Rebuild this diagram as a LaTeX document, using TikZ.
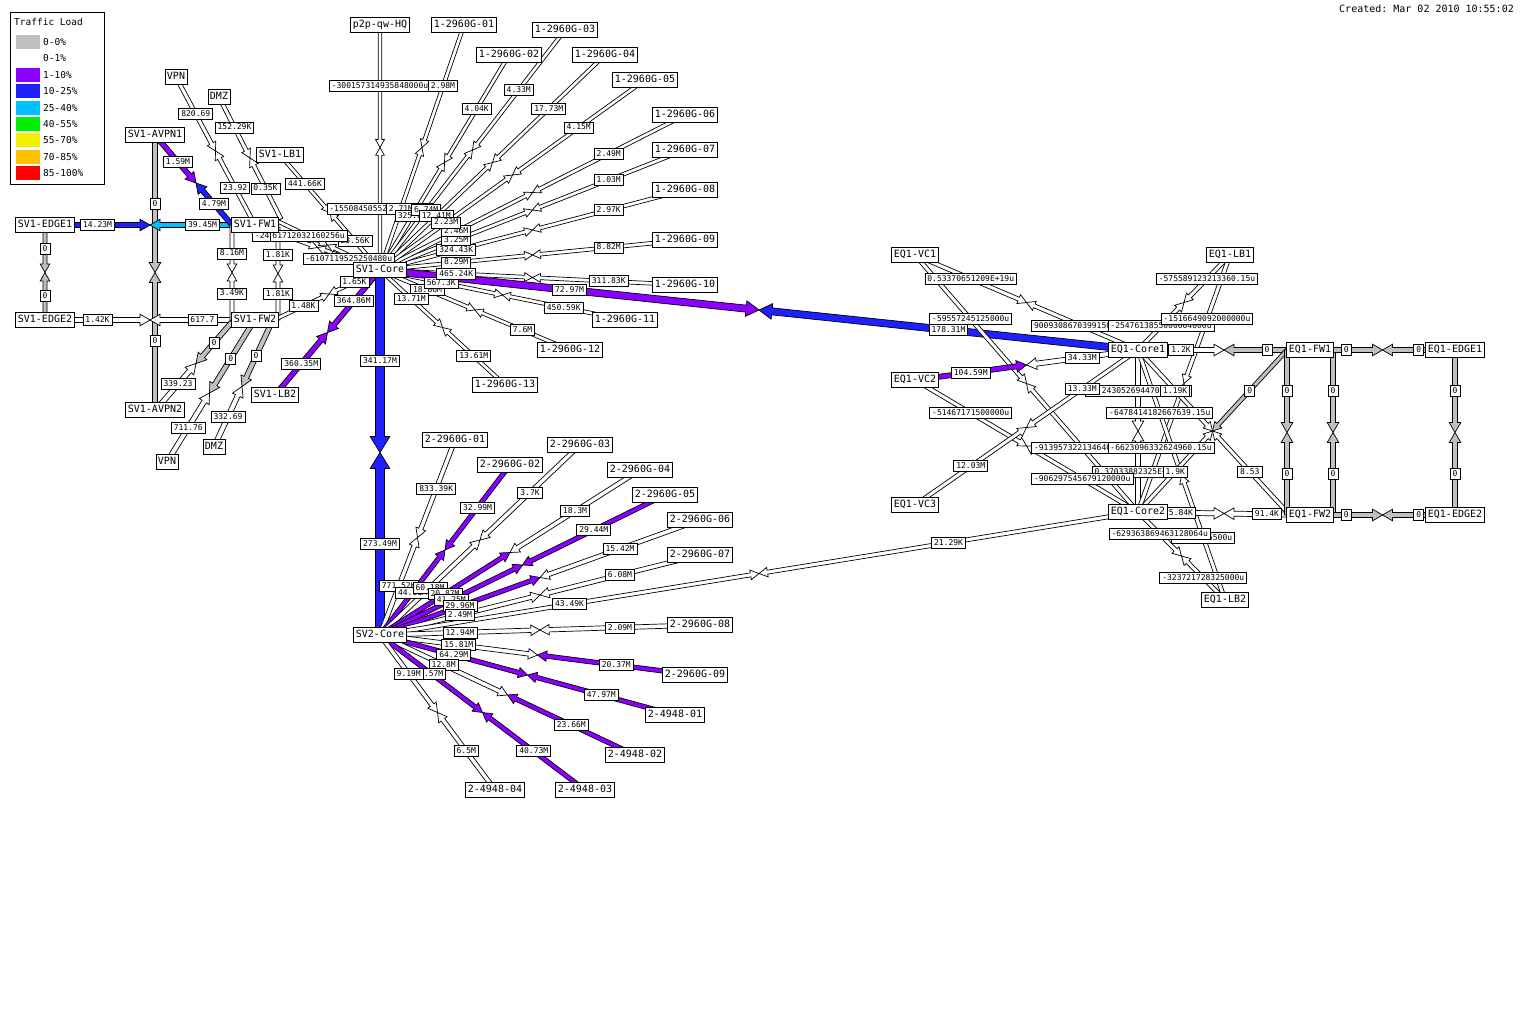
\documentclass[tikz,border=0pt]{standalone}
\usepackage{fontspec}
\setmonofont{DejaVu Sans Mono}
\usetikzlibrary{calc}
\definecolor{wgrey}{RGB}{192,192,192}
\definecolor{wpurple}{RGB}{140,0,255}
\definecolor{wblue}{RGB}{32,32,255}
\definecolor{wcyan}{RGB}{0,192,255}
\definecolor{wgreen}{RGB}{0,240,0}
\definecolor{wyellow}{RGB}{240,240,0}
\definecolor{worange}{RGB}{255,192,0}
\definecolor{wred}{RGB}{255,0,0}
\pgfdeclarelayer{links}
\pgfdeclarelayer{labels}
\pgfsetlayers{links,labels,main}
\tikzset{
  nd/.style={draw=black, fill=white, line width=0.9pt, font={\ttfamily\fontsize{10}{11}\selectfont},
    inner xsep=2pt, inner ysep=3pt, text height=7.5pt, text depth=2pt},
  lab/.style={draw=black, fill=white, line width=0.8pt, font={\ttfamily\fontsize{8}{9}\selectfont},
    inner xsep=2.5pt, inner ysep=2pt, text height=6pt, text depth=1pt},
  arrowline/.style={draw=black, line width=0.7pt, line join=miter},
  legtxt/.style={font={\ttfamily\fontsize{9.5}{10}\selectfont}, inner sep=0pt, anchor=west}
}
\newcount\labno
\newcommand\harrow[4]{%
  \pgfmathsetmacro\hwid{2*#4+0.8}%
  \pgfmathsetmacro\hlen{3*#4+2.5}%
  \coordinate (hm) at ($(#1.center)!0.5!(#2.center)$);
  \coordinate (hh) at ($(hm)!\hlen pt!(#1.center)$);
  \filldraw[arrowline, fill=#3]
    ($(#1.center)!#4pt!90:(#2.center)$) -- ($(hh)!#4pt!90:(#2.center)$) --
    ($(hh)!\hwid pt!90:(#2.center)$) -- (hm) -- ($(hh)!\hwid pt!-90:(#2.center)$) --
    ($(hh)!#4pt!-90:(#2.center)$) -- ($(#1.center)!#4pt!-90:(#2.center)$) -- cycle;
}
\newcommand\lab[2]{\if\relax\detokenize{#2}\relax\else
  \global\advance\labno by 1\relax
  \edef\labname{lab\the\labno}%
  \node[lab] (\labname) at #1 {#2};\fi}
\newcommand\wlf[9]{%
  \begin{pgfonlayer}{links}
    \harrow{#1}{#2}{#3}{#5}
    \harrow{#2}{#1}{#4}{#5}
  \end{pgfonlayer}
  \begin{pgfonlayer}{labels}
    \lab{($(#1.center)!#8!(#2.center)$)}{#6}
    \lab{($(#1.center)!#9!(#2.center)$)}{#7}
  \end{pgfonlayer}
}
\newcommand\wl[7]{\wlf{#1}{#2}{#3}{#4}{#5}{#6}{#7}{0.25}{0.75}}

\begin{document}
\begin{tikzpicture}[x=1pt,y=-1pt]
\useasboundingbox (0,0) rectangle (1536,1024);

% ---------- nodes ----------
\node[nd] (p2p) at (380,25) {p2p-qw-HQ};
\node[nd] (a01) at (464,25) {1-2960G-01};
\node[nd] (a02) at (509,55) {1-2960G-02};
\node[nd] (a03) at (565,30) {1-2960G-03};
\node[nd] (a04) at (605,55) {1-2960G-04};
\node[nd] (a05) at (645,80) {1-2960G-05};
\node[nd] (a06) at (685,115) {1-2960G-06};
\node[nd] (a07) at (685,150) {1-2960G-07};
\node[nd] (a08) at (685,190) {1-2960G-08};
\node[nd] (a09) at (685,240) {1-2960G-09};
\node[nd] (a10) at (685,285) {1-2960G-10};
\node[nd] (a11) at (625,320) {1-2960G-11};
\node[nd] (a12) at (570,350) {1-2960G-12};
\node[nd] (a13) at (505,385) {1-2960G-13};
\node[nd] (sv1core) at (380,270) {SV1-Core};
\node[nd] (sv2core) at (380,635) {SV2-Core};
\node[nd] (edge1) at (45,225) {SV1-EDGE1};
\node[nd] (edge2) at (45,320) {SV1-EDGE2};
\node[nd] (avpn1) at (155,135) {SV1-AVPN1};
\node[nd] (avpn2) at (155,410) {SV1-AVPN2};
\node[nd] (fw1) at (255,225) {SV1-FW1};
\node[nd] (fw2) at (255,320) {SV1-FW2};
\node[nd] (lb1) at (280,155) {SV1-LB1};
\node[nd] (lb2) at (275,395) {SV1-LB2};
\node[nd] (vpnt) at (176,77) {VPN};
\node[nd] (dmzt) at (219,97) {DMZ};
\node[nd] (vpnb) at (167,462) {VPN};
\node[nd] (dmzb) at (214,447) {DMZ};
\node[nd] (b01) at (455,440) {2-2960G-01};
\node[nd] (b02) at (510,465) {2-2960G-02};
\node[nd] (b03) at (580,445) {2-2960G-03};
\node[nd] (b04) at (640,470) {2-2960G-04};
\node[nd] (b05) at (665,495) {2-2960G-05};
\node[nd] (b06) at (700,520) {2-2960G-06};
\node[nd] (b07) at (700,555) {2-2960G-07};
\node[nd] (b08) at (700,625) {2-2960G-08};
\node[nd] (b09) at (695,675) {2-2960G-09};
\node[nd] (c01) at (675,715) {2-4948-01};
\node[nd] (c02) at (635,755) {2-4948-02};
\node[nd] (c03) at (585,790) {2-4948-03};
\node[nd] (c04) at (495,790) {2-4948-04};
\node[nd] (vc1) at (915,255) {EQ1-VC1};
\node[nd] (vc2) at (915,380) {EQ1-VC2};
\node[nd] (vc3) at (915,505) {EQ1-VC3};
\node[nd] (elb1) at (1230,255) {EQ1-LB1};
\node[nd] (elb2) at (1225,600) {EQ1-LB2};
\node[nd] (ecore1) at (1138,350) {EQ1-Core1};
\node[nd] (ecore2) at (1138,512) {EQ1-Core2};
\node[nd] (efw1) at (1310,350) {EQ1-FW1};
\node[nd] (efw2) at (1310,515) {EQ1-FW2};
\node[nd] (eedge1) at (1455,350) {EQ1-EDGE1};
\node[nd] (eedge2) at (1455,515) {EQ1-EDGE2};

% ---------- link end points with offsets ----------
\coordinate (avpn1x) at (160,141);
\coordinate (fw1l) at (232,225);
\coordinate (fw2l) at (232,320);
\coordinate (fw1r) at (278,227);
\coordinate (fw2r) at (278,320);
\coordinate (fw1b) at (281,219);
\coordinate (fw1e) at (275,220);
\coordinate (fw2a) at (232,322);
\coordinate (avpn2a) at (160,405);
\coordinate (fw2b) at (252,324);
\coordinate (fw2c) at (270,326);
\coordinate (fw2d) at (278,318);
\coordinate (efw1l) at (1287,350);
\coordinate (efw2l) at (1287,515);
\coordinate (efw1r) at (1333,350);
\coordinate (efw2r) at (1333,515);
\coordinate (efw2x) at (1287,512);

% ---------- SV1 left side ----------
\wl{edge1}{edge2}{wgrey}{wgrey}{2}{0}{0}
\wl{avpn1}{avpn2}{wgrey}{wgrey}{2.5}{0}{0}
\wl{edge1}{fw1}{wblue}{wcyan}{2.5}{14.23M}{39.45M}
\wl{edge2}{fw2}{white}{white}{2.5}{1.42K}{617.7}
\wl{avpn1x}{fw1l}{wpurple}{wblue}{2.5}{1.59M}{4.79M}
\wlf{fw1l}{fw2l}{white}{white}{2}{8.16M}{3.49K}{0.3}{0.72}
\wlf{fw1r}{fw2r}{white}{white}{2}{1.81K}{1.81K}{0.3}{0.72}
\wl{fw2a}{avpn2a}{wgrey}{white}{2.5}{0}{339.23}
\wl{fw2b}{vpnb}{wgrey}{white}{2.5}{0}{711.76}
\wl{fw2c}{dmzb}{wgrey}{white}{2.5}{0}{332.69}
\wl{vpnt}{fw1}{white}{white}{2}{820.69}{23.92}
\wl{dmzt}{fw1b}{white}{white}{2}{152.29K}{0.35K}
\wl{lb1}{sv1core}{white}{white}{1.8}{441.66K}{23.56K}
\wl{fw1}{sv1core}{white}{white}{1.8}{-24360985167u}{-6107119525250480u}
\wlf{fw1e}{sv1core}{white}{white}{1.8}{61712032160256u}{}{0.32}{0.75}
\wl{fw2d}{sv1core}{white}{white}{1.8}{1.48K}{1.65K}
\wl{lb2}{sv1core}{wpurple}{wpurple}{2.5}{360.35M}{364.86M}

% ---------- SV1-Core spokes ----------
\wl{p2p}{sv1core}{white}{white}{1.8}{-300157314935848000u}{-1550845055227100000u}
\wl{sv1core}{a12}{white}{white}{1.8}{18.86M}{7.6M}
\wl{sv1core}{a13}{white}{white}{1.8}{13.71M}{13.61M}
\wl{sv1core}{a11}{white}{white}{1.8}{567.3K}{450.59K}
\wl{sv1core}{a10}{white}{white}{1.8}{465.24K}{311.83K}
\wl{sv1core}{a09}{white}{white}{1.8}{8.29M}{8.82M}
\wl{sv1core}{a08}{white}{white}{1.8}{324.43K}{2.97K}
\wl{sv1core}{a07}{white}{white}{1.8}{3.25M}{1.03M}
\wl{sv1core}{a06}{white}{white}{1.8}{2.46M}{2.49M}
\wl{sv1core}{a01}{white}{white}{1.8}{2.71M}{2.98M}
\wl{sv1core}{a02}{white}{white}{1.8}{325.6K}{4.04K}
\wl{sv1core}{a03}{white}{white}{1.8}{6.74M}{4.33M}
\wl{sv1core}{a04}{white}{white}{1.8}{12.41M}{17.73M}
\wl{sv1core}{a05}{white}{white}{1.8}{2.23M}{4.15M}
\wl{sv1core}{ecore1}{wpurple}{wblue}{3.5}{72.97M}{178.31M}
\wl{sv1core}{sv2core}{wblue}{wblue}{4.5}{341.17M}{273.49M}

% ---------- SV2-Core spokes ----------
\wl{sv2core}{b01}{white}{white}{2.2}{771.52K}{833.39K}
\wl{sv2core}{b02}{wpurple}{wpurple}{2.2}{44.61M}{32.99M}
\wl{sv2core}{b03}{white}{white}{2.2}{60.18M}{3.7K}
\wl{sv2core}{b04}{wpurple}{white}{2.2}{20.87M}{18.3M}
\wl{sv2core}{b05}{wpurple}{wpurple}{2.2}{41.25M}{29.44M}
\wl{sv2core}{b06}{wpurple}{white}{2.2}{29.96M}{15.42M}
\wl{sv2core}{b07}{white}{white}{2.2}{2.49M}{6.08M}
\wl{sv2core}{ecore2}{white}{white}{2}{43.49K}{21.29K}
\wl{sv2core}{b08}{white}{white}{2.2}{12.94M}{2.09M}
\wl{sv2core}{b09}{white}{wpurple}{2.2}{15.81M}{20.37M}
\wl{sv2core}{c01}{wpurple}{wpurple}{2.2}{64.29M}{47.97M}
\wl{sv2core}{c02}{white}{wpurple}{2.2}{12.8M}{23.66M}
\wl{sv2core}{c03}{wpurple}{wpurple}{2.2}{1.57M}{40.73M}
\wl{sv2core}{c04}{white}{white}{2.2}{9.19M}{6.5M}

% ---------- EQ1 ----------
\wl{ecore1}{ecore2}{white}{white}{2.5}{-0.2430526944705E+19u}{0.37033882325E+19u}
\wl{vc1}{ecore1}{white}{white}{2}{0.53370651209E+19u}{9009308670399150000u}
\wl{vc1}{ecore2}{white}{white}{2}{-59557245125000u}{-913957322134640000u}
\wl{vc2}{ecore1}{wpurple}{white}{2.5}{104.59M}{34.33M}
\wl{vc2}{ecore2}{white}{white}{2}{-51467171500000u}{-906297545679120000u}
\wl{vc3}{ecore1}{white}{white}{2}{12.03M}{13.33M}
\wl{elb1}{ecore1}{white}{white}{2}{-575589123213360.15u}{-2547613855000004000u}
\wl{elb1}{ecore2}{white}{white}{2}{-1516649092000000u}{-6623096332624960.15u}
\wl{elb2}{ecore1}{white}{white}{2}{-8240015500u}{-6478414182667639.15u}
\wl{elb2}{ecore2}{white}{white}{2}{-323721728325000u}{-629363869463128064u}
\wl{ecore1}{efw1}{white}{wgrey}{2.5}{1.2K}{0}
\wl{ecore2}{efw2}{white}{white}{2.5}{5.84K}{91.4K}
\wl{ecore1}{efw2x}{white}{white}{2}{1.19K}{8.53}
\wl{ecore2}{efw1l}{white}{wgrey}{2}{1.9K}{0}
\wl{efw1l}{efw2l}{wgrey}{wgrey}{2.5}{0}{0}
\wl{efw1r}{efw2r}{wgrey}{wgrey}{2.5}{0}{0}
\wl{efw1}{eedge1}{wgrey}{wgrey}{2.5}{0}{0}
\wl{efw2}{eedge2}{wgrey}{wgrey}{2.5}{0}{0}
\wl{eedge1}{eedge2}{wgrey}{wgrey}{2.5}{0}{0}

% ---------- legend ----------
\draw[line width=0.9pt, fill=white] (10,12) rectangle (104,184);
\node[legtxt] (legtitle) at (14,22) {Traffic Load};
\foreach \yy/\cc/\tt [count=\i] in {42/wgrey/0-0\%, 58.5/white/0-1\%, 75/wpurple/1-10\%,
   91.5/wblue/10-25\%, 108/wcyan/25-40\%, 124/wgreen/40-55\%, 140.5/wyellow/55-70\%,
   157/worange/70-85\%, 173/wred/85-100\%}{
  \fill[\cc] (16,\yy-7) rectangle (40,\yy+7);
  \node[legtxt] (leg\i) at (43,\yy) {\tt};
}
\node[anchor=east, inner sep=0pt, font={\ttfamily\fontsize{10}{11}\selectfont}] (created) at (1514,9) {Created: Mar 02 2010 10:55:02};
\end{tikzpicture}
\end{document}
